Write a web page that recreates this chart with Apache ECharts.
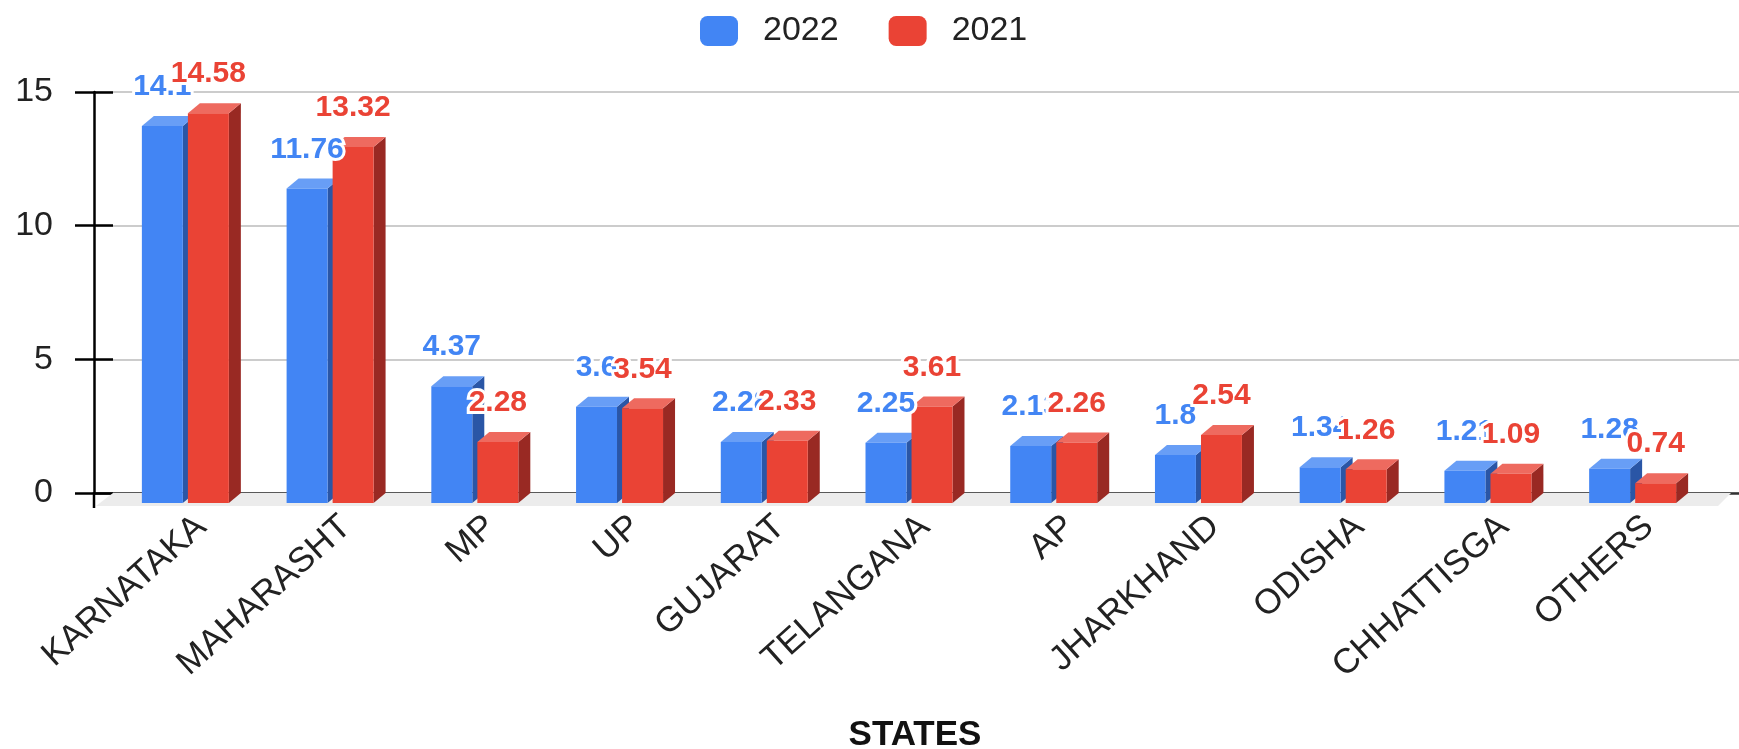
<!DOCTYPE html>
<html>
<head>
<meta charset="utf-8">
<script src="https://cdn.jsdelivr.net/npm/echarts@6/dist/echarts.min.js"></script>
<style>
  html, body { margin: 0; padding: 0; background: #fff; }
  #chart { width: 1739px; height: 749px; }
</style>
</head>
<body>
<div id="chart"></div>
<script>
// ---- data ----
const categories = ['KARNATAKA', 'MAHARASHT', 'MP', 'UP', 'GUJARAT', 'TELANGANA', 'AP', 'JHARKHAND', 'ODISHA', 'CHHATTISGA', 'OTHERS'];
const values2022 = [14.1, 11.76, 4.37, 3.6, 2.28, 2.25, 2.13, 1.8, 1.34, 1.21, 1.28];
const values2021 = [14.58, 13.32, 2.28, 3.54, 2.33, 3.61, 2.26, 2.54, 1.26, 1.09, 0.74];
const seriesNames = ['2022', '2021'];
const yTicks = [0, 5, 10, 15];
const xAxisTitle = 'STATES';

// ---- styling / layout ----
const FONT = "'Liberation Sans', Arial, sans-serif";
const COLORS = {
  '2022': { front: '#4285f4', top: '#689ef6', side: '#2a56a6' },
  '2021': { front: '#ea4335', top: '#ee6a5f', side: '#992923' }
};
const DEPTH_X = 12, DEPTH_Y = 10;
const BAR_FRAC = 0.283, GAP_FRAC = 0.035;
const LABEL_DX = 16;

const chart = echarts.init(document.getElementById('chart'), null, { renderer: 'canvas' });

function barRender(which) {
  const col = COLORS[seriesNames[which]];
  return function (params, api) {
    const i = api.value(0), v = api.value(1);
    const base = api.coord([i, 0]);
    const top = api.coord([i, v]);
    const bw = api.size([1, 0])[0];
    const w = bw * BAR_FRAC, g = bw * GAP_FRAC;
    const x0 = which === 0 ? base[0] - g / 2 - w : base[0] + g / 2;
    const yT = top[1], yB = base[1];
    return {
      type: 'group',
      children: [
        { type: 'polygon', shape: { points: [[x0 + w, yT], [x0 + w + DEPTH_X, yT - DEPTH_Y], [x0 + w + DEPTH_X, yB - DEPTH_Y], [x0 + w, yB]] }, style: { fill: col.side } },
        { type: 'polygon', shape: { points: [[x0, yT], [x0 + w, yT], [x0 + w + DEPTH_X, yT - DEPTH_Y], [x0 + DEPTH_X, yT - DEPTH_Y]] }, style: { fill: col.top } },
        { type: 'rect', shape: { x: x0, y: yT, width: w, height: yB - yT }, style: { fill: col.front } }
      ]
    };
  };
}
function labelRender(which) {
  const col = COLORS[seriesNames[which]];
  return function (params, api) {
    const i = api.value(0), v = api.value(1);
    const base = api.coord([i, 0]);
    const top = api.coord([i, v]);
    const bw = api.size([1, 0])[0];
    const w = bw * BAR_FRAC, g = bw * GAP_FRAC;
    const x0 = which === 0 ? base[0] - g / 2 - w : base[0] + g / 2;
    return {
      type: 'text',
      x: x0 + w / 2,
      y: top[1] - 39,
      style: {
        text: String(v),
        fill: col.front,
        font: 'bold 30px ' + FONT,
        align: 'center',
        verticalAlign: 'middle',
        stroke: '#fff',
        lineWidth: 6
      }
    };
  };
}
const data2022 = values2022.map((v, i) => [i, v]);
const data2021 = values2021.map((v, i) => [i, v]);

const option = {
  animation: false,
  backgroundColor: '#fff',
  legend: {
    data: seriesNames,
    left: 695, top: 9,
    icon: 'roundRect',
    itemWidth: 38, itemHeight: 30, itemGap: 50,
    textStyle: { fontSize: 34, color: '#222', fontFamily: FONT, padding: [0, 0, 0, 20] }
  },
  grid: [
    { left: 94, right: 0, top: 92, bottom: 256 },                 // back wall: gridlines
    { left: 113, right: 34, top: 102, bottom: 246 },              // bars (front plane)
    { left: 113 + LABEL_DX, right: 34 - LABEL_DX, top: 102, bottom: 246 } // category labels
  ],
  xAxis: [
    { gridIndex: 0, type: 'category', data: categories, axisLine: { show: true, lineStyle: { color: '#333', width: 2.5 } }, axisTick: { show: false }, axisLabel: { show: false } },
    { gridIndex: 1, type: 'category', data: categories, show: false },
    { gridIndex: 2, type: 'category', data: categories,
      axisLine: { show: false }, axisTick: { show: false },
      axisLabel: { rotate: 42, margin: 19, fontSize: 35, color: '#222', fontFamily: FONT, interval: 0 } }
  ],
  yAxis: [
    { gridIndex: 0, type: 'value', min: yTicks[0], max: yTicks[yTicks.length - 1], interval: 5,
      axisLine: { show: true, lineStyle: { color: '#000', width: 2.5 } },
      axisTick: { show: true, length: 19, lineStyle: { color: '#000', width: 2.5 } },
      axisLabel: { margin: 41, fontSize: 34, color: '#222', fontFamily: FONT },
      splitLine: { show: true, lineStyle: { color: '#cccccc', width: 2 } } },
    { gridIndex: 0, type: 'value', min: yTicks[0], max: yTicks[yTicks.length - 1], interval: 5, position: 'left',
      axisLine: { show: false }, axisLabel: { show: false }, splitLine: { show: false },
      axisTick: { show: true, inside: true, length: 19, lineStyle: { color: '#000', width: 2.5 } } },
    { gridIndex: 1, type: 'value', min: yTicks[0], max: yTicks[yTicks.length - 1], show: false },
    { gridIndex: 2, type: 'value', min: yTicks[0], max: yTicks[yTicks.length - 1], show: false }
  ],
  graphic: [
    { type: 'polygon', z: 1, shape: { points: [[113, 493], [1731, 493], [1718, 506], [96, 506]] }, style: { fill: '#ececec' } },
    { type: 'line', z: 5, shape: { x1: 94, y1: 492, x2: 94, y2: 508 }, style: { stroke: '#000', lineWidth: 2.5 } },
    { type: 'text', z: 5, x: 915, y: 735, style: { text: xAxisTitle, font: 'bold 35px ' + FONT, fill: '#111', align: 'center', verticalAlign: 'middle' } }
  ],
  series: [
    { name: seriesNames[0], type: 'custom', xAxisIndex: 1, yAxisIndex: 2, z: 3, itemStyle: { color: COLORS['2022'].front }, renderItem: barRender(0), data: data2022 },
    { name: seriesNames[1], type: 'custom', xAxisIndex: 1, yAxisIndex: 2, z: 3, itemStyle: { color: COLORS['2021'].front }, renderItem: barRender(1), data: data2021 },
    { name: 'lbl2022', type: 'custom', xAxisIndex: 1, yAxisIndex: 2, z: 6, renderItem: labelRender(0), data: data2022, silent: true },
    { name: 'lbl2021', type: 'custom', xAxisIndex: 1, yAxisIndex: 2, z: 7, renderItem: labelRender(1), data: data2021, silent: true }
  ]
};
chart.setOption(option);
</script>
</body>
</html>
